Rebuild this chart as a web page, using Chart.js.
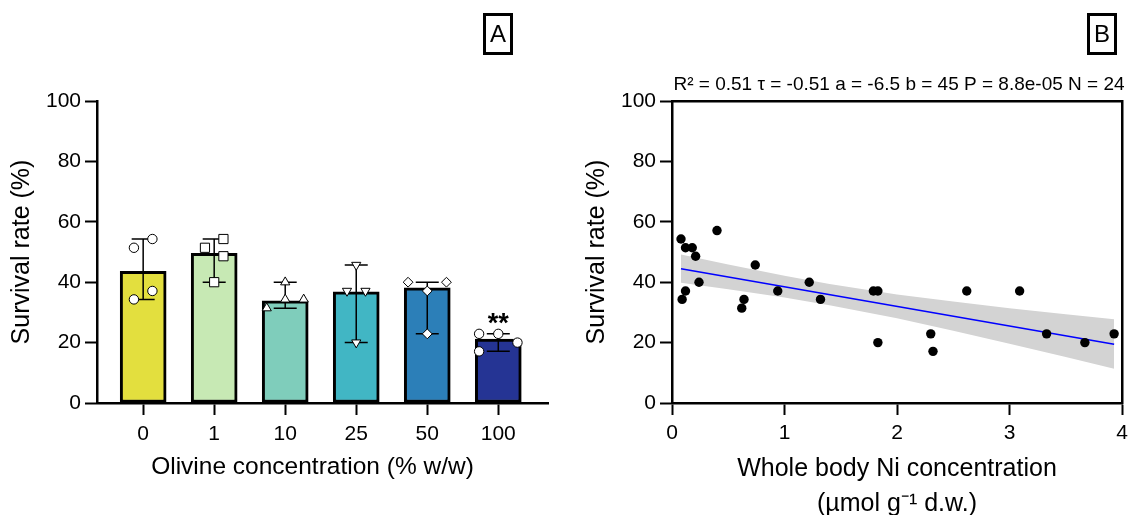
<!DOCTYPE html>
<html>
<head>
<meta charset="utf-8">
<script src="https://cdn.jsdelivr.net/npm/chart.js@4/dist/chart.umd.min.js"></script>
<style>
  body { margin: 0; background: #fff; overflow: hidden; }
  #wrap { position: relative; width: 1129px; height: 515px; background: #fff; overflow: hidden; }
  canvas { position: absolute; top: 0; }
  .tag {
    position: absolute; top: 13px; width: 24px; height: 36px;
    border: 3px solid #000; font: 24px "Liberation Sans", Arial, sans-serif;
    line-height: 36px; text-align: center; color: #000;
  }
</style>
</head>
<body>
<div id="wrap">
  <canvas id="panelA" width="565" height="515" style="left:0"></canvas>
  <canvas id="panelB" width="584" height="515" style="left:565px"></canvas>
  <div class="tag" style="left:483px">A</div>
  <div class="tag" style="left:1087px">B</div>
</div>
<script>
// --- A: survival per olivine dose ---
const concentrations = ['0', '1', '10', '25', '50', '100'];
const survivalBars = [43.6, 49.6, 33.8, 36.8, 38.1, 21.2];
const rangeLow = [34.3, 40.0, 31.4, 20.0, 22.9, 17.1];
const rangeHigh = [54.3, 54.3, 40.0, 45.7, 40.0, 22.9];
const significance = ['', '', '', '', '', '**'];
const barColors = ['#e3df3e', '#c7e9b4', '#7fcdbb', '#41b6c4', '#2c7fb8', '#253494'];

// replicate jars, with the small sideways spread used to keep them apart
const replicateValues = [
  [54.3, 51.4, 37.1, 34.3],
  [54.3, 51.4, 48.6, 40.0],
  [40.0, 34.3, 34.3, 31.4],
  [45.7, 37.1, 37.1, 20.0],
  [40.0, 40.0, 37.1, 22.9],
  [22.9, 22.9, 20.0, 17.1]
];
const replicateOffsets = [
  [0.13, -0.13, 0.13, -0.13],
  [0.13, -0.13, 0.13, 0],
  [0, 0, 0.26, -0.26],
  [0, -0.13, 0.13, 0],
  [-0.27, 0.27, 0, 0],
  [-0.27, 0, 0.27, -0.27]
];
const markerStyles = ['circle', 'rect', 'triangle', 'triangle', 'rectRot', 'circle'];
const markerRotation = [0, 0, 0, 180, 0, 0];
const markerRadius = [4.7, 6.5, 5.3, 5.3, 4.9, 4.7];

// --- B: survival vs whole body Ni ---
const nickelX = [0.08, 0.12, 0.18, 0.21, 0.40, 0.74, 0.24, 0.12, 0.09, 0.64, 0.62, 0.94,
                 1.22, 1.32, 1.79, 1.83, 1.83, 2.62, 3.09, 2.30, 2.32, 3.33, 3.67, 3.93];
const nickelSurvival = [54.3, 51.4, 51.4, 48.6, 57.1, 45.7, 40.0, 37.1, 34.3, 34.3, 31.4, 37.1,
                        40.0, 34.3, 37.1, 37.1, 20.0, 37.1, 37.1, 22.9, 17.1, 22.9, 20.0, 22.9];
const bandX = [0.08, 0.5, 1.0, 1.4, 2.0, 2.5, 3.0, 3.5, 3.93];
const bandUpper = [49.2, 45.9, 42.1, 39.4, 35.9, 33.6, 31.4, 29.4, 27.7];
const bandLower = [39.8, 37.7, 34.9, 32.4, 28.1, 23.9, 19.6, 15.2, 11.3];
const fitR2 = 0.51, kendallTau = -0.51, fitSlope = -6.5, fitIntercept = 45, fitP = '8.8e-05';

const yTicks = [0, 20, 40, 60, 80, 100];
const FONT = '"Liberation Sans", Arial, sans-serif';

Chart.defaults.font.family = FONT;
Chart.defaults.color = '#000';
Chart.defaults.animation = false;
Chart.defaults.plugins.legend.display = false;
Chart.defaults.plugins.tooltip.enabled = false;

function axisGrid() {
  return { offset: false, drawOnChartArea: false, drawTicks: true, tickLength: 12, tickColor: '#000', tickWidth: 2 };
}

function survivalAxis(width, titlePad) {
  return {
    min: 0, max: 100,
    afterBuildTicks: s => { s.ticks = yTicks.map(v => ({ value: v })); },
    afterFit: s => { s.width = width; },
    ticks: { font: { size: 21 }, padding: 4 },
    grid: axisGrid(),
    border: { color: '#000', width: 2.5 },
    title: { display: true, text: 'Survival rate (%)', font: { size: 25 }, padding: { top: titlePad } }
  };
}

// range whiskers and significance stars over the bars
const rangeBars = {
  id: 'rangeBars',
  afterDatasetDraw(chart, args) {
    if (args.index !== 0) return;
    const { ctx, scales: { x, y } } = chart;
    ctx.save();
    ctx.strokeStyle = '#000';
    ctx.lineWidth = 1.5;
    rangeLow.forEach((lo, i) => {
      const cx = x.getPixelForValue(i);
      const top = y.getPixelForValue(rangeHigh[i]);
      const bottom = y.getPixelForValue(lo);
      ctx.beginPath();
      ctx.moveTo(cx, top); ctx.lineTo(cx, bottom);
      ctx.moveTo(cx - 11.5, top); ctx.lineTo(cx + 11.5, top);
      ctx.moveTo(cx - 11.5, bottom); ctx.lineTo(cx + 11.5, bottom);
      ctx.stroke();
      if (significance[i]) {
        ctx.fillStyle = '#000';
        ctx.font = 'bold 27px ' + FONT;
        ctx.textAlign = 'center';
        ctx.textBaseline = 'alphabetic';
        ctx.fillText(significance[i], cx, top - 2);
      }
    });
    ctx.restore();
  },
  // axis caption sits a little left of the plot centre
  afterDraw(chart) {
    const { ctx, chartArea } = chart;
    ctx.save();
    ctx.fillStyle = '#000';
    ctx.font = '24.5px ' + FONT;
    ctx.textAlign = 'center';
    ctx.textBaseline = 'middle';
    ctx.fillText('Olivine concentration (% w/w)', (chartArea.left + chartArea.right) / 2 - 10, 467);
    ctx.restore();
  }
};

const datasetsA = [{
  type: 'bar',
  data: survivalBars.map((v, i) => ({ x: i, y: v })),
  backgroundColor: barColors,
  borderColor: '#000',
  borderWidth: 3,
  borderSkipped: false,
  barThickness: 46,
  order: 2
}];
replicateValues.forEach((vals, i) => {
  datasetsA.push({
    type: 'scatter',
    data: vals.map((v, k) => ({ x: i + replicateOffsets[i][k], y: v })),
    pointStyle: markerStyles[i],
    rotation: markerRotation[i],
    radius: markerRadius[i],
    backgroundColor: '#fff',
    borderColor: '#000',
    borderWidth: 1,
    order: 1
  });
});

new Chart(document.getElementById('panelA'), {
  type: 'bar',
  data: { datasets: datasetsA },
  plugins: [rangeBars],
  options: {
    responsive: false,
    layout: { padding: { left: 0, right: 17, top: 101, bottom: 0 } },
    scales: {
      x: {
        type: 'linear', min: -0.65, max: 5.7, offset: false,
        afterBuildTicks: s => { s.ticks = concentrations.map((c, i) => ({ value: i })); },
        afterFit: s => { s.height = 112; },
        ticks: { font: { size: 21 }, padding: 7, callback: v => concentrations[v] },
        grid: axisGrid(),
        border: { color: '#000', width: 2.5 }
      },
      y: survivalAxis(97, 7)
    }
  }
});

// fit statistics above the scatter frame
const fitLabel = {
  id: 'fitLabel',
  afterDraw(chart) {
    const { ctx, chartArea } = chart;
    const text = `R² = ${fitR2} τ = ${kendallTau} a = ${fitSlope} b = ${fitIntercept} P = ${fitP} N = ${nickelX.length}`;
    ctx.save();
    ctx.fillStyle = '#000';
    ctx.font = '19px ' + FONT;
    ctx.textAlign = 'center';
    ctx.textBaseline = 'middle';
    ctx.fillText(text, (chartArea.left + chartArea.right) / 2 + 2, chartArea.top - 16);
    ctx.restore();
  }
};

const xMin = Math.min(...nickelX), xMax = Math.max(...nickelX);

new Chart(document.getElementById('panelB'), {
  type: 'line',
  data: {
    datasets: [
      {
        data: bandX.map((x, i) => ({ x, y: bandUpper[i] })),
        borderWidth: 0, pointRadius: 0, fill: '+1',
        backgroundColor: '#d3d3d3', order: 3
      },
      {
        data: bandX.map((x, i) => ({ x, y: bandLower[i] })),
        borderWidth: 0, pointRadius: 0, fill: false, order: 3
      },
      {
        data: [xMin, xMax].map(x => ({ x, y: fitIntercept + fitSlope * x })),
        borderColor: '#0000ff', borderWidth: 1.5, pointRadius: 0, fill: false, order: 2
      },
      {
        type: 'scatter',
        data: nickelX.map((x, i) => ({ x, y: nickelSurvival[i] })),
        pointRadius: 4.7, backgroundColor: '#000', borderColor: '#000', borderWidth: 0, order: 1
      }
    ]
  },
  plugins: [fitLabel],
  options: {
    responsive: false,
    layout: { padding: { left: 0, right: 27, top: 101, bottom: 0 } },
    scales: {
      x: {
        type: 'linear', min: 0, max: 4,
        afterBuildTicks: s => { s.ticks = [0, 1, 2, 3, 4].map(v => ({ value: v })); },
        afterFit: s => { s.height = 112; },
        ticks: { font: { size: 21 }, padding: 6 },
        grid: axisGrid(),
        border: { color: '#000', width: 2.5 },
        title: {
          display: true,
          text: ['Whole body Ni concentration', '(µmol g⁻¹ d.w.)'],
          font: { size: 25, lineHeight: 1.4 },
          padding: { top: 0, bottom: -6.5 }
        }
      },
      xTop: {
        type: 'linear', position: 'top', min: 0, max: 4,
        afterFit: s => { s.height = 0; },
        ticks: { display: false },
        grid: { display: false, drawTicks: false },
        border: { color: '#000', width: 2.5 }
      },
      y: survivalAxis(107, 17),
      yRight: {
        type: 'linear', position: 'right', min: 0, max: 100,
        afterFit: s => { s.width = 0; },
        ticks: { display: false },
        grid: { display: false, drawTicks: false },
        border: { color: '#000', width: 2.5 }
      }
    }
  }
});
</script>
</body>
</html>
